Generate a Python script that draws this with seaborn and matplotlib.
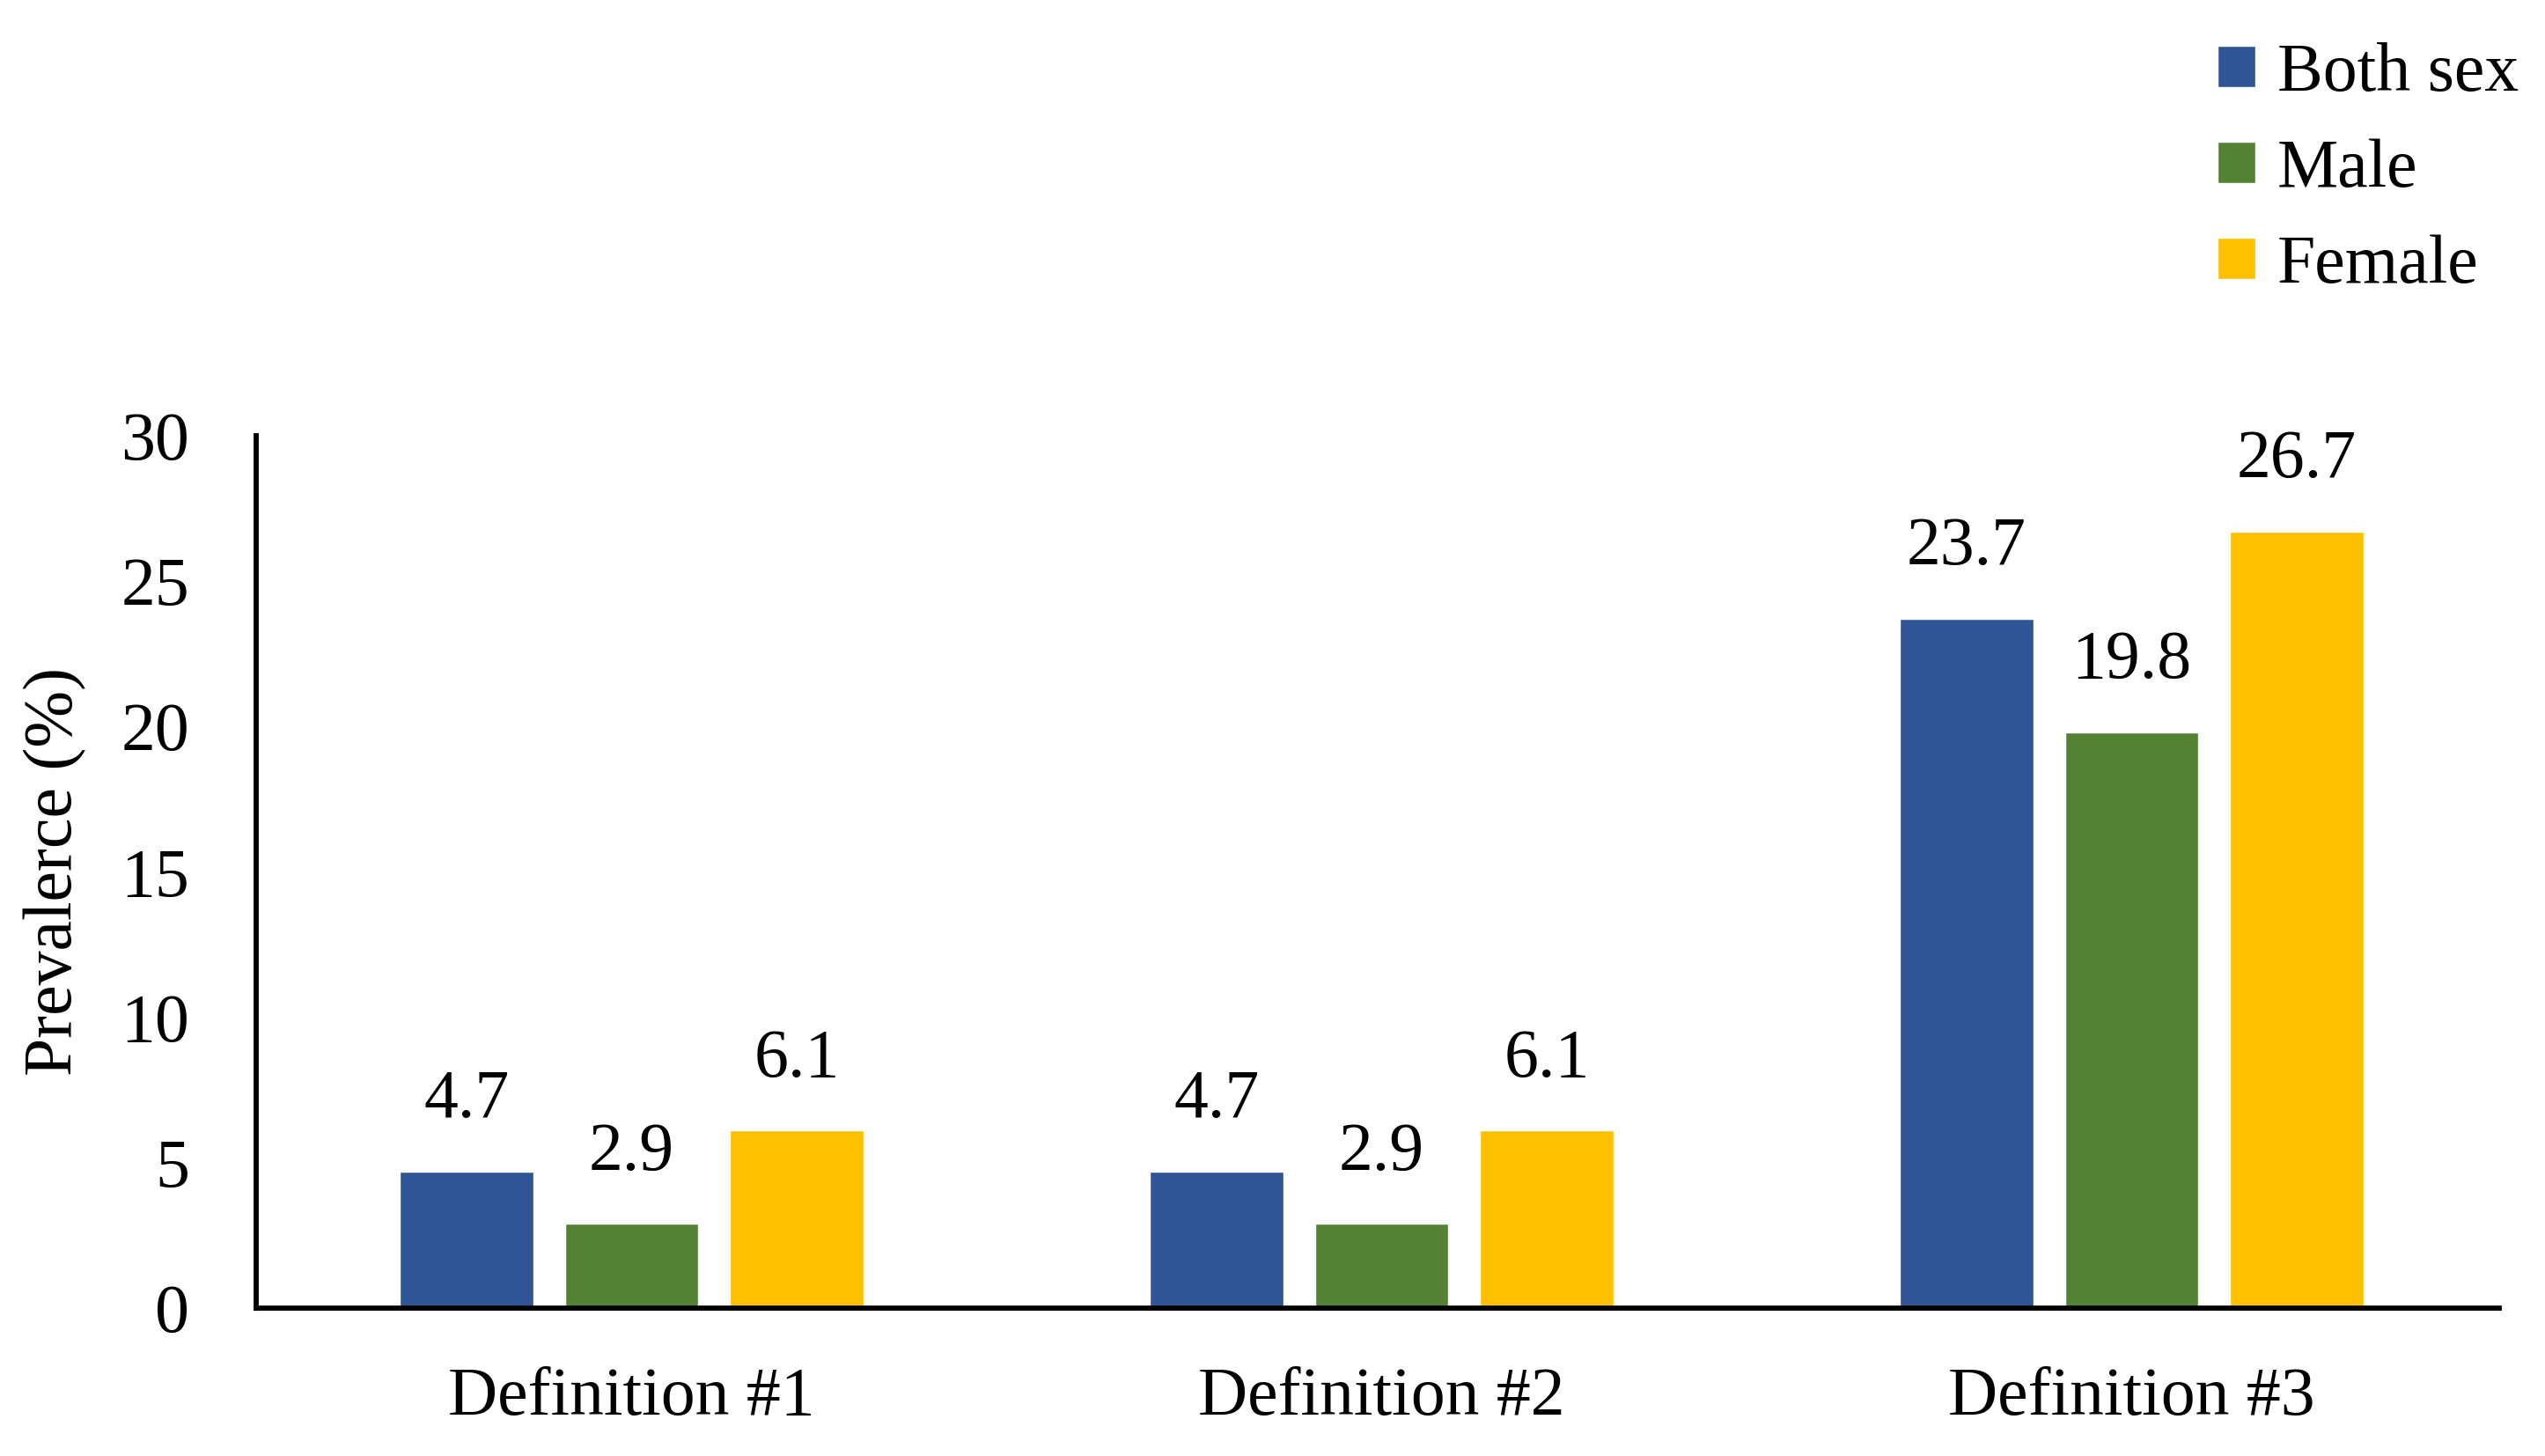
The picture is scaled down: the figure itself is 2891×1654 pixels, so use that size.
import matplotlib
matplotlib.use("Agg")
import matplotlib.pyplot as plt
import pandas as pd
import seaborn as sns

# values
definitions = ["Definition #1", "Definition #2", "Definition #3"]
groups = ["Both sex", "Male", "Female"]
both_sex = [4.7, 4.7, 23.7]
male = [2.9, 2.9, 19.8]
female = [6.1, 6.1, 26.7]
y_ticks = [0, 5, 10, 15, 20, 25, 30]
colors = ["#2F5597", "#548235", "#FFC000"]

df = pd.DataFrame({
    "definition": definitions * 3,
    "group": [g for g in groups for _ in definitions],
    "prevalence": both_sex + male + female,
})

sns.set_theme(style="white")
plt.rcParams["font.family"] = ["Liberation Serif", "DejaVu Serif"]
plt.rcParams.update({"text.color": "black", "axes.labelcolor": "black",
                     "xtick.color": "black", "ytick.color": "black"})
FS = 56

fig = plt.figure(figsize=(28.91, 16.54), dpi=100)
ax = fig.add_axes([0.1008, 0.1015, 0.8812, 0.5995])

sns.barplot(data=df, x="definition", y="prevalence", hue="group",
            order=definitions, hue_order=groups, palette=colors,
            width=0.66, gap=0.19, saturation=1, errorbar=None, ax=ax)

for cont in ax.containers:
    ax.bar_label(cont, fmt="%.1f", padding=32, fontsize=FS, color="black")

ax.set_xlim(-0.5, 2.49)
ax.set_ylim(0, 30)
ax.set_yticks(y_ticks)
ax.set_xlabel("")
ax.set_ylabel("Prevalerce (%)", fontsize=FS, labelpad=28)
ax.tick_params(axis="both", length=0, labelsize=FS)
ax.tick_params(axis="y", pad=55)
ax.tick_params(axis="x", pad=48)

for side in ["top", "right"]:
    ax.spines[side].set_visible(False)
for side in ["left", "bottom"]:
    ax.spines[side].set_color("black")
    ax.spines[side].set_linewidth(4.2)

handles, labels = ax.get_legend_handles_labels()
ax.get_legend().remove()
fig.legend(handles, labels, loc="upper left", bbox_to_anchor=(0.858, 0.994),
           frameon=False, fontsize=FS, handlelength=0.55, handleheight=0.55,
           handletextpad=0.32, labelspacing=0.48, borderpad=0)

fig.savefig("out.png", dpi=100)
